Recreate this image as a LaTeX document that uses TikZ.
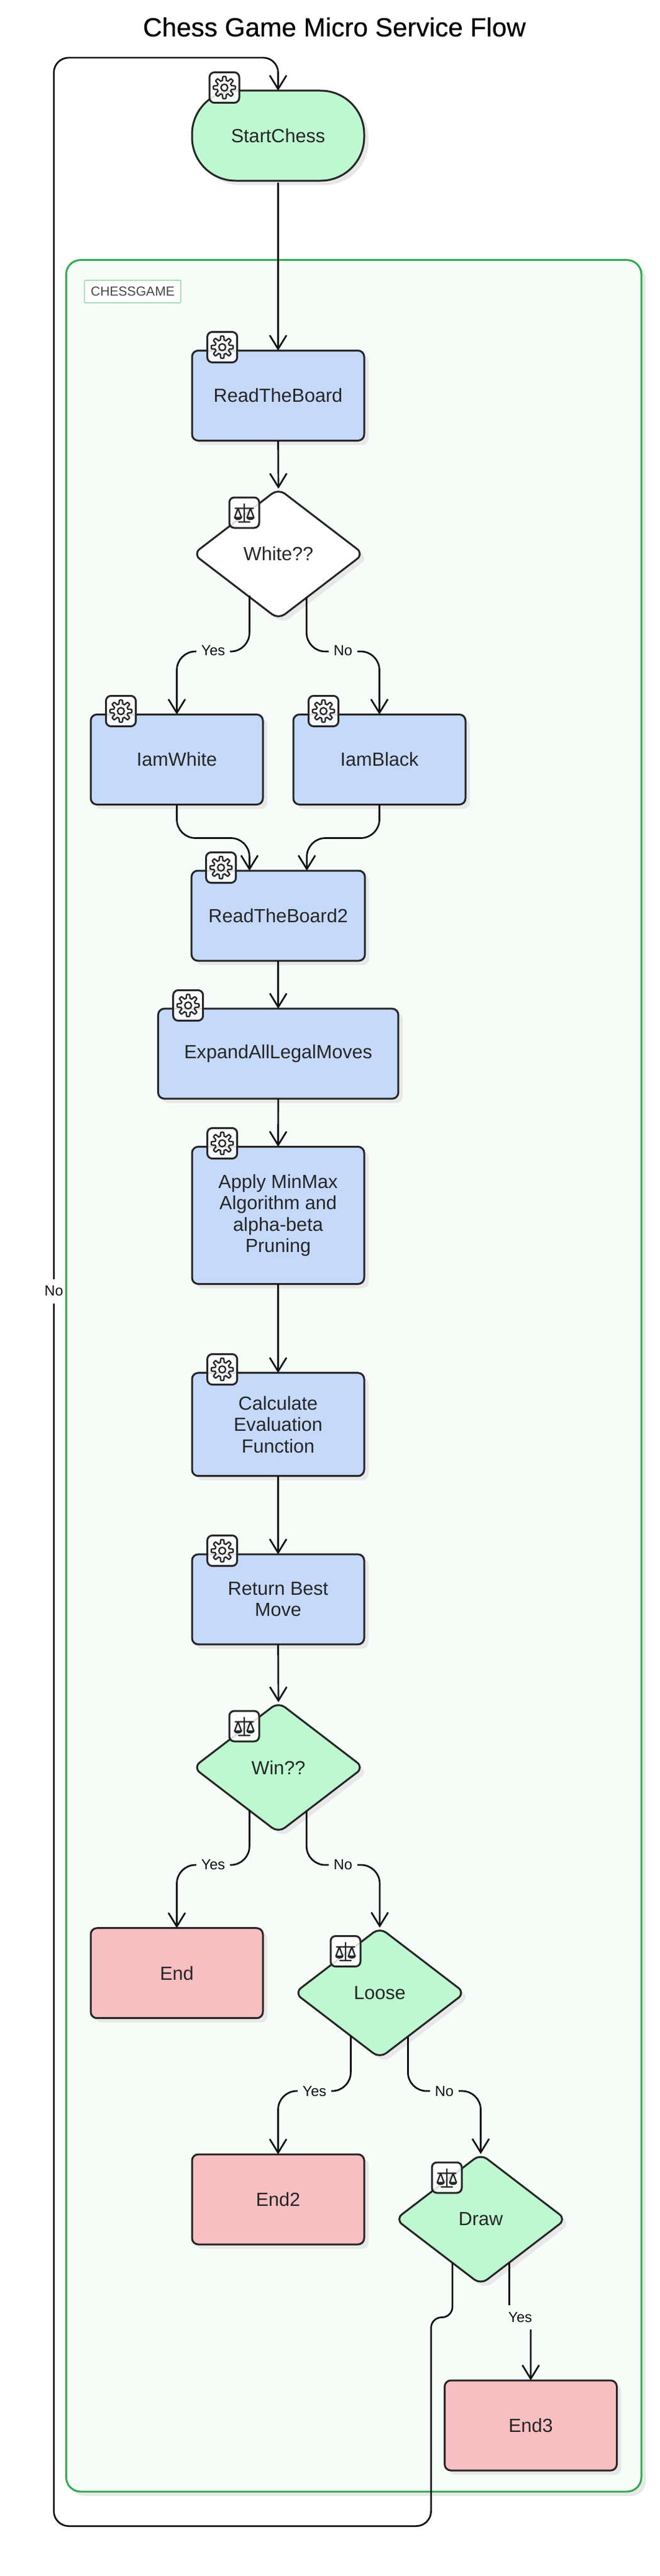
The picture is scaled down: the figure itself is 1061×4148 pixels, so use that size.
\documentclass[tikz,border=0pt]{standalone}
\usepackage{fontspec}
\setmainfont{Liberation Sans}
\newfontfamily\titlefont[FakeBold=0.4]{Liberation Sans}
\usetikzlibrary{arrows.meta,calc,shapes.geometric,shadows}
\definecolor{inkc}{HTML}{262626}
\definecolor{edgec}{HTML}{111111}
\definecolor{greenf}{HTML}{BDF8D0}
\definecolor{bluef}{HTML}{C5D9FB}
\definecolor{pinkf}{HTML}{F8BFC2}
\definecolor{clusterf}{HTML}{F6FCF8}
\definecolor{clusters}{HTML}{34A853}
\definecolor{labels}{HTML}{86D19E}
\definecolor{shadowc}{HTML}{E8E8E8}
\tikzset{
  softshadow/.style={general shadow={shadow xshift=7pt,shadow yshift=-7pt,fill=shadowc}},
  nodefont/.style={font=\fontsize{30.6}{34.4}\selectfont,text=inkc,align=center},
  basebox/.style={nodefont,draw=inkc,line width=3pt,inner sep=0pt,outer sep=0pt,softshadow},
  procbox/.style={basebox,rectangle,rounded corners=10pt,fill=bluef,minimum width=277pt,minimum height=145pt},
  endbox/.style={procbox,fill=pinkf},
  startbox/.style={basebox,rectangle,rounded corners=70pt,fill=greenf,minimum width=277pt,minimum height=145pt},
  decision/.style={basebox,diamond,rounded corners=13pt,minimum width=274pt,minimum height=210pt},
  clusterbox/.style={rectangle,draw=clusters,line width=3pt,fill=clusterf,rounded corners=23pt,inner sep=0pt,softshadow},
  flow/.style={draw=edgec,line width=2.7pt,-{Straight Barb[length=22pt,width=27pt,line width=2.7pt]}},
  edgelabel/.style={font=\fontsize{23.5}{26}\selectfont,text=edgec,fill=clusterf,inner xsep=8pt,inner ysep=0pt,minimum height=39pt},
  iconbox/.style={rectangle,draw=inkc,line width=3pt,fill=white,fill opacity=.85,rounded corners=8pt,inner sep=0pt,minimum width=48pt,minimum height=49pt},
  gearicon/.pic={
    \draw[inkc,line width=2.3pt,line join=round] plot[domain=0:360,samples=97,smooth cycle] ({(14.7+3*max(min(2*cos(8*\x),1),-1))*cos(\x)},{(14.7+3*max(min(2*cos(8*\x),1),-1))*sin(\x)});
    \draw[inkc,line width=2.3pt] (0,0) circle[radius=5.5pt];
  },
  scaleicon/.pic={
    \draw[inkc,line width=2.3pt,line cap=round,line join=round]
      (0,-14) -- (0,15) (-9,15) -- (9,15) (-14.5,-7) -- (14.5,-7)
      (-10,-7) -- (-15.5,8) .. controls (-14,11.5) and (-6,11.5) .. (-4.5,8) -- cycle
      (10,-7) -- (4.5,8) .. controls (6,11.5) and (14,11.5) .. (15.5,8) -- cycle
      (-15.5,8) -- (-4.5,8) (4.5,8) -- (15.5,8);
  }
}
\begin{document}
\begin{tikzpicture}[x=1pt,y=-1pt]
\fill[white] (0,0) rectangle (1061,4148);
\useasboundingbox (0,0) rectangle (1061,4148);

\node[font=\titlefont\fontsize{42.3}{46}\selectfont,text=black] (title) at (538,43.5) {Chess Game Micro Service Flow};

% cluster
\node[clusterbox,minimum width=925.5pt,minimum height=3593.3pt] (chess) at (569.25,2215.35) {};
\node[rectangle,draw=labels,line width=1.2pt,fill=white,rounded corners=2pt,minimum width=155pt,minimum height=36.5pt,inner sep=0pt,font=\fontsize{21.1}{24}\selectfont,text=inkc!85] (chesslabel) at (213.5,469.5) {CHESSGAME};

% nodes
\node[startbox] (start) at (447.5,218.5) {StartChess};
\node[procbox] (read) at (447.5,637) {ReadTheBoard};
\node[decision,fill=white] (dwhite) at (448,892) {White??};
\node[procbox] (iamw) at (284.5,1223) {IamWhite};
\node[procbox] (iamb) at (610.5,1223) {IamBlack};
\node[procbox,minimum width=279pt] (read2) at (447.7,1474.5) {ReadTheBoard2};
\node[procbox,minimum width=386.5pt] (expand) at (447.7,1696.7) {ExpandAllLegalMoves};
\node[procbox,minimum height=221pt] (minmax) at (447.5,1957) {Apply MinMax\\Algorithm and\\alpha-beta\\Pruning};
\node[procbox,minimum height=166pt] (evalf) at (447.5,2293.7) {Calculate\\Evaluation\\Function};
\node[procbox] (best) at (447.5,2575.3) {Return Best\\Move};
\node[decision,fill=greenf] (win) at (448,2846) {Win??};
\node[endbox] (endA) at (284.5,3177.2) {End};
\node[decision,fill=greenf] (loose) at (611,3209) {Loose};
\node[endbox] (endB) at (447.5,3541.5) {End2};
\node[decision,fill=greenf] (drawn) at (773.5,3573.5) {Draw};
\node[endbox] (endC) at (854,3905.5) {End3};

% connectors
\draw[flow] ($(start.south)+(0,3)$) -- (read.north);
\draw[flow] (read.south) -- (dwhite.north);
\draw[flow,rounded corners=30pt] ($(dwhite.center)+(-46.6,67)$) -- ++(0,90) -| (iamw.north);
\draw[flow,rounded corners=30pt] ($(dwhite.center)+(45.3,70)$) -- ++(0,87) -| (iamb.north);
\draw[flow,rounded corners=30pt] (iamw.south) -- ++(0,54) -| ($(read2.north)+(-46.3,0)$);
\draw[flow,rounded corners=30pt] (iamb.south) -- ++(0,54) -| ($(read2.north)+(46,0)$);
\draw[flow] (read2.south) -- (expand.north);
\draw[flow] (expand.south) -- (minmax.north);
\draw[flow] (minmax.south) -- (evalf.north);
\draw[flow] (evalf.south) -- (best.north);
\draw[flow] (best.south) -- (win.north);
\draw[flow,rounded corners=30pt] ($(win.center)+(-46.6,68)$) -- ++(0,89) -| (endA.north);
\draw[flow,rounded corners=30pt] ($(win.center)+(45.3,71)$) -- ++(0,86) -| (loose.north);
\draw[flow,rounded corners=30pt] ($(loose.center)+(-46.6,68.5)$) -- ++(0,89.5) -| (endB.north);
\draw[flow,rounded corners=30pt] ($(loose.center)+(45.4,71)$) -- ++(0,87) -| (drawn.north);
\draw[flow,rounded corners=17pt] ($(drawn.center)+(46,70)$) -- ++(0,87.5) -| (endC.north);
\draw[flow,rounded corners=17pt] ($(drawn.center)+(-45.5,69.5)$) -- ++(0,88.5) -- ++(-34.4,0) [rounded corners=24pt] -- (693.6,4067.6) -- (86.6,4067.6) -- (86.6,92.9) -- (447.5,92.9) [rounded corners=0pt] -- (start.north);

% connector labels
\node[edgelabel] (ly1) at (343,1048) {Yes};
\node[edgelabel] (ln1) at (552,1048) {No};
\node[edgelabel] (ly2) at (343,3002) {Yes};
\node[edgelabel] (ln2) at (552,3002) {No};
\node[edgelabel] (ly3) at (506,3367) {Yes};
\node[edgelabel] (ln3) at (715,3367) {No};
\node[edgelabel] (ly4) at (837,3731) {Yes};
\node[edgelabel,fill=white,inner xsep=2pt] (ln4) at (86.6,2079) {No};

% icons
\foreach \nm/\px/\py in {g1/361/141,g2/357.6/559,g3/194.5/1145,g4/520.5/1145,g5/355.6/1397,g6/302.7/1619,g7/357.6/1841,g8/357.6/2205,g9/357.6/2497}{
  \node[iconbox] (\nm) at (\px,\py) {};
  \pic at (\nm) {gearicon};
}
\foreach \nm/\px/\py in {s1/393/825.5,s2/393/2779.5,s3/556/3142,s4/719/3506.5}{
  \node[iconbox] (\nm) at (\px,\py) {};
  \pic at (\nm) {scaleicon};
}
\end{tikzpicture}
\end{document}
